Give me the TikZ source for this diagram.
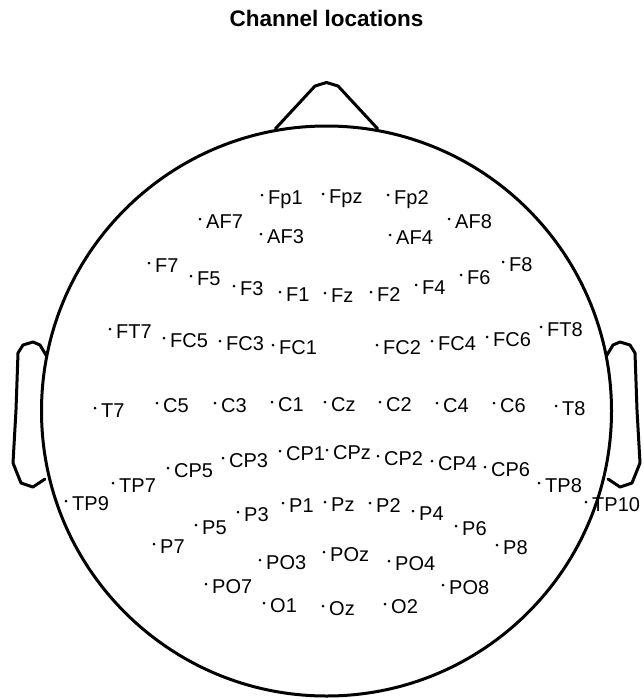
\documentclass[tikz,border=0pt]{standalone}
\usepackage{fontspec}
\setmainfont{Liberation Sans}
\usepackage{tikz}
\usetikzlibrary{positioning}

\tikzset{
  headline/.style={line width=3pt,line join=round,line cap=round},
  chdot/.style={fill=black},
  chlabel/.style={anchor=base west,inner sep=0pt,font=\fontsize{20}{24}\selectfont},
}

\begin{document}
\begin{tikzpicture}[x=1pt,y=-1pt]
  \useasboundingbox (0,0) rectangle (643,699);
  \node[font=\bfseries\fontsize{22.5}{27}\selectfont] (title) at (326.5,18) {Channel locations};
  % head, nose and ears
  \draw[headline] (326.5,411) circle[radius=285pt];
  \draw[headline] (275.5,128.6) -- (315,86) -- (326.5,82.5) -- (338,86) -- (377.5,128.6);
  \draw[headline] (607,355) -- (613,345) -- (620,342) -- (630,345) -- (635,353)
    -- (637,410) -- (640,463) -- (632,483) -- (620,487) -- (608,479);
  \draw[headline] (46,355) -- (40,345) -- (33,342) -- (23,345) -- (18,353)
    -- (16,410) -- (13,463) -- (21,483) -- (33,487) -- (45,479);
  % channels
  \foreach \ch/\x/\y in {Fp1/262/195,Fpz/323/194,Fp2/388/195,
      AF7/200/219,AF3/261/234,AF4/390/235,AF8/449/219,
      F7/149/263,F5/191/276,F3/234/286,F1/280/292,Fz/325/293,F2/371/292,F4/416/285,F6/461/275,F8/503/262,
      FT7/110/329,FC5/164/338,FC3/220/341,FC1/273/345,FC2/377/345,FC4/432/341,FC6/487/337,FT8/541/327,
      T7/95/408,C5/157/403,C3/215/403,C1/272/402,Cz/325/402,C2/380/402,C4/437/403,C6/494/403,T8/556/406,
      TP9/66/501,TP7/113/483,CP5/168/468,CP3/223/458,CP1/280/451,CPz/327/450,CP2/378/456,CP4/432/461,CP6/485/467,TP8/539/483,TP10/586/502,
      P7/154/544,P5/196/525,P3/238/512,P1/283/503,Pz/325/502,P2/370/503,P4/413/511,P6/456/526,P8/497/545,
      PO7/206/584,PO3/260/560,POz/324/552,PO4/389/561,PO8/443/585,
      O1/264/603,Oz/323/606,O2/385/604}{
    \coordinate (\ch) at (\x,\y);
    \fill[chdot] (\ch) circle[radius=1.5pt];
    \node[chlabel] (lbl-\ch) at ([shift={(6,9)}]\ch) {\ch};
  }
\end{tikzpicture}
\end{document}
